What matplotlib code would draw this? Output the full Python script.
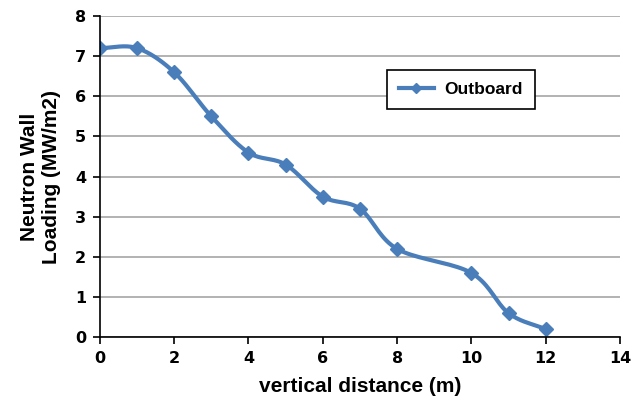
import numpy as np
import matplotlib
matplotlib.use('Agg')
import matplotlib.pyplot as plt

# Datos
distancia = [0, 1, 2, 3, 4, 5, 6, 7, 8, 10, 11, 12]
carga = [7.2, 7.2, 6.6, 5.5, 4.6, 4.3, 3.5, 3.2, 2.2, 1.6, 0.6, 0.2]
serie = 'Outboard'
color_linea = '#4a7ebb'


def suavizar(x, y, n=20):
    # Curva tipo Catmull-Rom (como el suavizado de Excel)
    x = np.asarray(x, float)
    y = np.asarray(y, float)
    px = np.concatenate([[2 * x[0] - x[1]], x, [2 * x[-1] - x[-2]]])
    py = np.concatenate([[2 * y[0] - y[1]], y, [2 * y[-1] - y[-2]]])
    xs, ys = [], []
    t = np.linspace(0, 1, n)
    for i in range(1, len(px) - 2):
        for p, out in ((px, xs), (py, ys)):
            p0, p1, p2, p3 = p[i - 1], p[i], p[i + 1], p[i + 2]
            out.extend(0.5 * ((2 * p1) + (-p0 + p2) * t
                              + (2 * p0 - 5 * p1 + 4 * p2 - p3) * t ** 2
                              + (-p0 + 3 * p1 - 3 * p2 + p3) * t ** 3))
    return xs, ys


plt.rcParams['font.family'] = ['Liberation Sans', 'DejaVu Sans']
fig = plt.figure(figsize=(6.32, 4), dpi=100)
ax = fig.add_axes([0.158, 0.157, 0.823, 0.803])

xs, ys = suavizar(distancia, carga)
ax.plot(xs, ys, color=color_linea, lw=3, solid_capstyle='round')
ax.plot(distancia, carga, color=color_linea, lw=0, marker='D', ms=7, mec=color_linea)
ax.plot([], [], color=color_linea, lw=3, marker='D', ms=5, label=serie)

ax.set_xlim(0, 14)
ax.set_ylim(0, 8)
ax.set_xticks(range(0, 15, 2))
ax.set_yticks(range(0, 9))
ax.grid(axis='y', color='#a6a6a6', lw=1.2)
ax.set_axisbelow(True)
for lado in ['top', 'right']:
    ax.spines[lado].set_visible(False)
for lado in ['left', 'bottom']:
    ax.spines[lado].set_color('black')
    ax.spines[lado].set_linewidth(1.2)
ax.tick_params(direction='out', length=5, width=1.2, labelsize=11.5, pad=5)
for lbl in ax.get_xticklabels() + ax.get_yticklabels():
    lbl.set_fontweight('bold')
    lbl.set_family('DejaVu Sans')

ax.set_xlabel('vertical distance (m)', fontsize=15, fontweight='bold', labelpad=8)
ax.set_ylabel('Neutron Wall\nLoading (MW/m2)', fontsize=15, fontweight='bold', labelpad=10)

leg = ax.legend(loc='upper left', bbox_to_anchor=(0.535, 0.86), fancybox=False,
                edgecolor='black', framealpha=1, prop={'weight': 'bold', 'size': 12.5},
                handlelength=2.0, handletextpad=0.6, borderpad=0.7)
leg.get_frame().set_linewidth(1.2)

fig.savefig('out.png', dpi=100)
